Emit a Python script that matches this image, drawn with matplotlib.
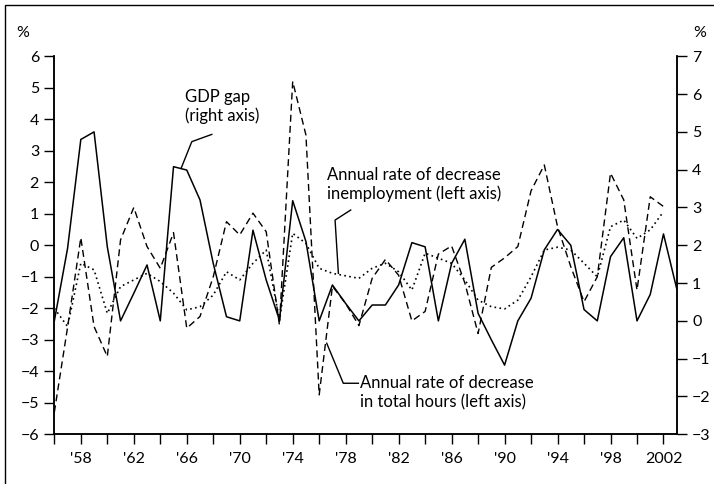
import numpy as np
import matplotlib.pyplot as plt
from matplotlib.patches import Rectangle

plt.rcParams['font.family'] = ['Lato', 'DejaVu Sans']

years = np.arange(1956, 2004)

# GDP gap, right axis (1956-2003)
gdp_gap = [0.0, 1.92, 4.8, 5.0, 1.96, 0.0, 0.73, 1.48, 0.0, 4.08,
           3.99, 3.2, 1.52, 0.11, 0.0, 2.4, 1.08, 0.02, 3.18, 2.1,
           0.0, 0.95, 0.46, 0.0, 0.42, 0.42, 0.95, 2.07, 1.96, 0.0,
           1.52, 2.16, 0.2, -0.5, -1.17, 0.0, 0.6, 1.88, 2.42, 2.0,
           0.3, 0.0, 1.7, 2.2, 0.0, 0.7, 2.3, 0.85]

# annual rate of decrease in total hours, left axis (1956-2002)
hours = [-5.3, -2.6, 0.24, -2.58, -3.53, 0.17, 1.2, -0.04, -0.73, 0.4,
         -2.63, -2.26, -1.0, 0.75, 0.33, 1.02, 0.43, -2.53, 5.2, 3.5,
         -4.75, -1.3, -1.85, -2.55, -1.05, -0.45, -0.95, -2.4, -2.1, -0.28,
         -0.02, -1.2, -2.8, -0.7, -0.4, -0.04, 1.73, 2.55, 0.59, -0.68,
         -1.79, -1.0, 2.29, 1.44, -1.42, 1.54, 1.23]

# annual rate of decrease in employment, left axis (1956-2002)
employment = [-2.0, -2.58, -0.57, -0.78, -2.16, -1.31, -1.1, -0.89, -1.15, -1.52,
              -2.05, -1.95, -1.58, -0.84, -1.1, -0.57, -0.15, -2.37, 0.38, 0.06,
              -0.73, -0.89, -0.97, -1.05, -0.73, -0.57, -0.84, -1.42, -0.25, -0.41,
              -0.57, -1.1, -1.74, -1.95, -2.02, -1.74, -1.0, -0.15, -0.06, -0.15,
              -0.57, -1.0, 0.59, 0.8, 0.22, 0.49, 1.07]

xticks = np.arange(1956, 2003, 2)
xlabels = {1958: "'58", 1962: "'62", 1966: "'66", 1970: "'70", 1974: "'74",
           1978: "'78", 1982: "'82", 1986: "'86", 1990: "'90", 1994: "'94",
           1998: "'98", 2002: "2002"}

fig = plt.figure(figsize=(7.14, 4.84), dpi=100)
ax = fig.add_axes([0.0761, 0.1027, 0.8717, 0.781])
ax2 = ax.twinx()

ax.plot(years[:len(hours)], hours, color='black', lw=1.0, ls=(0, (5, 3)))
ax.plot(years[:len(employment)], employment, color='black', lw=1.2, ls=(0, (1, 2)))
ax2.plot(years, gdp_gap, color='black', lw=1.1)

ax.set_xlim(1956, 2003)
ax.set_ylim(-6, 6)
ax2.set_ylim(-3, 7)
ax.set_yticks(range(-6, 7))
ax2.set_yticks(range(-3, 8))
ax.set_xticks(xticks)
ax.set_xticklabels([xlabels.get(int(t), '') for t in xticks])

for a in (ax, ax2):
    a.spines['top'].set_visible(False)
    a.tick_params(direction='out', length=7, width=1, labelsize=11.5, pad=4)
    for s in a.spines.values():
        s.set_linewidth(1.1)
ax.tick_params(axis='x', pad=6)

ax.text(-0.0503, 1.062, '%', transform=ax.transAxes, fontsize=11.5, ha='center', va='center')
ax2.text(1.0374, 1.062, '%', transform=ax2.transAxes, fontsize=11.5, ha='center', va='center')

# annotations
ax.plot([1965.57, 1966.38, 1967.89], [2.44, 3.29, 3.52], color='black', lw=1.0)
ax.text(1965.87, 4.4, 'GDP gap\n(right axis)', fontsize=12, ha='left', va='center', linespacing=1.2)

ax.plot([1977.45, 1977.2, 1978.38], [-0.89, 0.80, 1.12], color='black', lw=1.0)
ax.text(1976.57, 1.94, 'Annual rate of decrease\ninemployment (left axis)', fontsize=12,
        ha='left', va='center', linespacing=1.2)

ax.plot([1976.57, 1977.82, 1978.96], [-3.11, -4.38, -4.38], color='black', lw=1.0)
ax.text(1979.08, -4.68, 'Annual rate of decrease\nin total hours (left axis)', fontsize=12,
        ha='left', va='center', linespacing=1.2)

fig.patches.append(Rectangle((4.5 / 714, -0.02), 1.0, 1 - 5 / 484 + 0.02, transform=fig.transFigure,
                             fill=False, edgecolor='black', lw=1.0))

fig.savefig('out.png', dpi=100)
